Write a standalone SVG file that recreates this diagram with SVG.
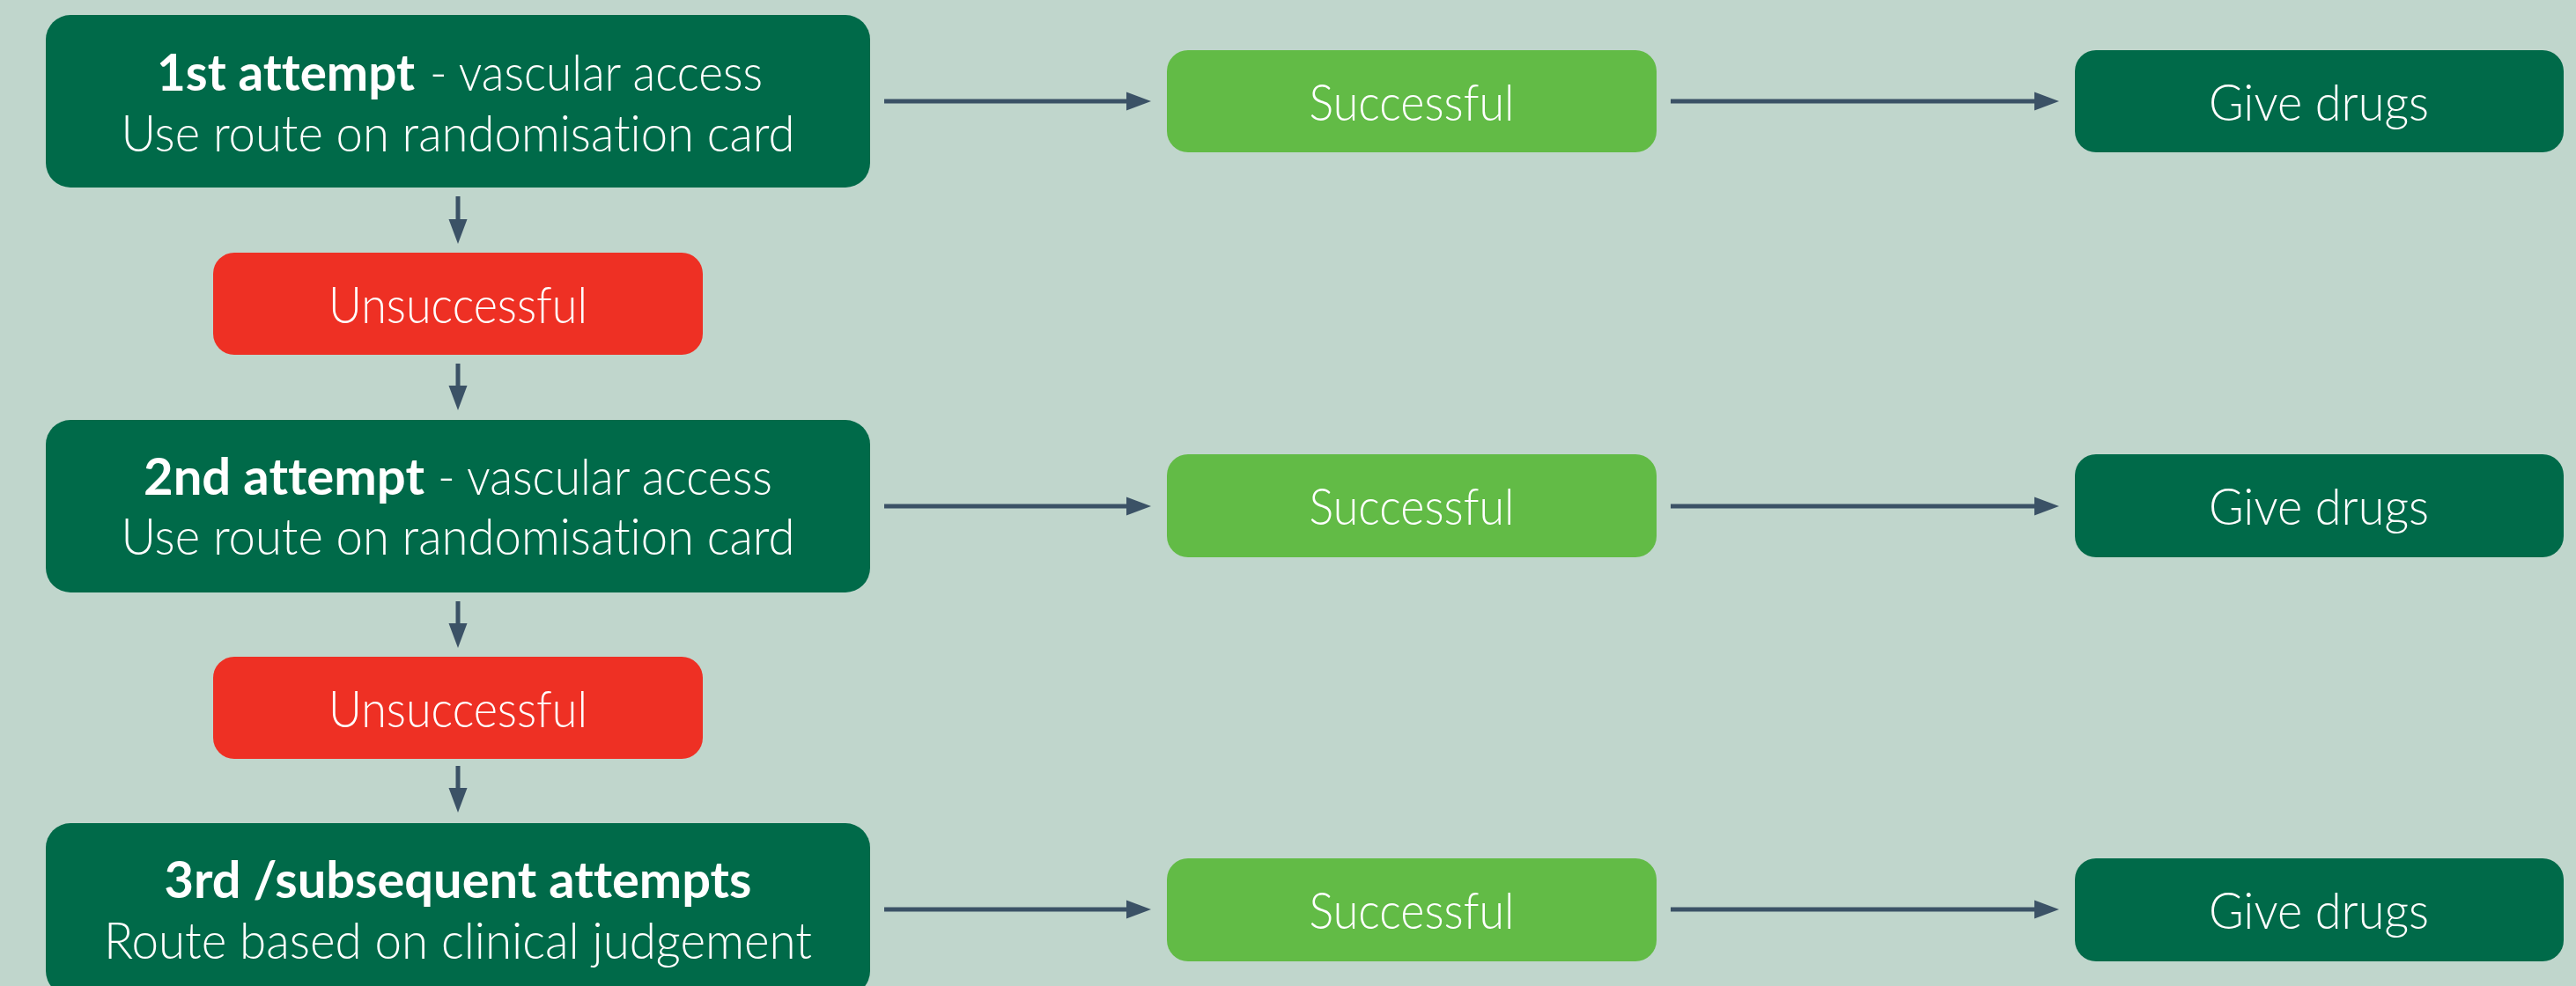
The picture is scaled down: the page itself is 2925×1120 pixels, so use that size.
<svg xmlns="http://www.w3.org/2000/svg" width="2925" height="1120" viewBox="0 0 2925 1120">
<style>
.bg{fill:#C0D6CC}
.dk{fill:#006A49}
.lt{fill:#62BB46}
.rd{fill:#EE3024}
.t{font-family:Lato,"Open Sans","Liberation Sans",sans-serif;font-weight:300;font-size:57px;fill:#FFFFFF;text-anchor:middle;font-variant-ligatures:none;font-feature-settings:"liga" 0,"dlig" 0}
.s{text-anchor:start}
.b{font-weight:700}
.c{stroke:#3B5266;stroke-width:5;fill:none;marker-end:url(#ah)}
</style>
<defs>
<marker id="ah" markerUnits="userSpaceOnUse" markerWidth="28" markerHeight="22" refX="8" refY="11" orient="auto">
<path d="M0,0.5 L28,11 L0,21.5 z" fill="#3B5266"/>
</marker>
</defs>
<rect class="bg" x="0" y="0" width="2925" height="1120"/>
<g id="connectors">
<line class="c" x1="1004" y1="115" x2="1287" y2="115"/>
<line class="c" x1="1897" y1="115" x2="2318" y2="115"/>
<line class="c" x1="1004" y1="575" x2="1287" y2="575"/>
<line class="c" x1="1897" y1="575" x2="2318" y2="575"/>
<line class="c" x1="1004" y1="1033" x2="1287" y2="1033"/>
<line class="c" x1="1897" y1="1033" x2="2318" y2="1033"/>
<line class="c" x1="520" y1="223" x2="520" y2="257"/>
<line class="c" x1="520" y1="413" x2="520" y2="446"/>
<line class="c" x1="520" y1="683" x2="520" y2="716"/>
<line class="c" x1="520" y1="870" x2="520" y2="903"/>
</g>
<g id="attempt1">
<rect class="dk" x="52" y="17" width="936" height="196" rx="28"/>
<text class="t s b" x="178" y="103" textLength="293" lengthAdjust="spacingAndGlyphs">1st attempt</text>
<text class="t s" x="488" y="103" textLength="378" lengthAdjust="spacingAndGlyphs">- vascular access</text>
<text class="t" x="520" y="172" textLength="765" lengthAdjust="spacingAndGlyphs">Use route on randomisation card</text>
</g>
<g id="unsuccessful1">
<rect class="rd" x="242" y="287" width="556" height="116" rx="24"/>
<text class="t" x="520" y="367" textLength="294" lengthAdjust="spacingAndGlyphs">Unsuccessful</text>
</g>
<g id="attempt2">
<rect class="dk" x="52" y="477" width="936" height="196" rx="28"/>
<text class="t s b" x="163" y="562" textLength="319" lengthAdjust="spacingAndGlyphs">2nd attempt</text>
<text class="t s" x="497" y="562" textLength="380" lengthAdjust="spacingAndGlyphs">- vascular access</text>
<text class="t" x="520" y="630" textLength="765" lengthAdjust="spacingAndGlyphs">Use route on randomisation card</text>
</g>
<g id="unsuccessful2">
<rect class="rd" x="242" y="746" width="556" height="116" rx="24"/>
<text class="t" x="520" y="826" textLength="294" lengthAdjust="spacingAndGlyphs">Unsuccessful</text>
</g>
<g id="attempt3">
<rect class="dk" x="52" y="935" width="936" height="196" rx="28"/>
<text class="t b" x="520" y="1020" textLength="667" lengthAdjust="spacingAndGlyphs">3rd /subsequent attempts</text>
<text class="t" x="520" y="1089" textLength="804" lengthAdjust="spacingAndGlyphs">Route based on clinical judgement</text>
</g>
<g id="successful1">
<rect class="lt" x="1325" y="57" width="556" height="116" rx="24"/>
<text class="t" x="1603" y="137" textLength="233" lengthAdjust="spacingAndGlyphs">Successful</text>
</g>
<g id="givedrugs1">
<rect class="dk" x="2356" y="57" width="555" height="116" rx="24"/>
<text class="t" x="2633" y="137" textLength="250" lengthAdjust="spacingAndGlyphs">Give drugs</text>
</g>
<g id="successful2">
<rect class="lt" x="1325" y="516" width="556" height="117" rx="24"/>
<text class="t" x="1603" y="596" textLength="233" lengthAdjust="spacingAndGlyphs">Successful</text>
</g>
<g id="givedrugs2">
<rect class="dk" x="2356" y="516" width="555" height="117" rx="24"/>
<text class="t" x="2633" y="596" textLength="250" lengthAdjust="spacingAndGlyphs">Give drugs</text>
</g>
<g id="successful3">
<rect class="lt" x="1325" y="975" width="556" height="117" rx="24"/>
<text class="t" x="1603" y="1055" textLength="233" lengthAdjust="spacingAndGlyphs">Successful</text>
</g>
<g id="givedrugs3">
<rect class="dk" x="2356" y="975" width="555" height="117" rx="24"/>
<text class="t" x="2633" y="1055" textLength="250" lengthAdjust="spacingAndGlyphs">Give drugs</text>
</g>
</svg>
